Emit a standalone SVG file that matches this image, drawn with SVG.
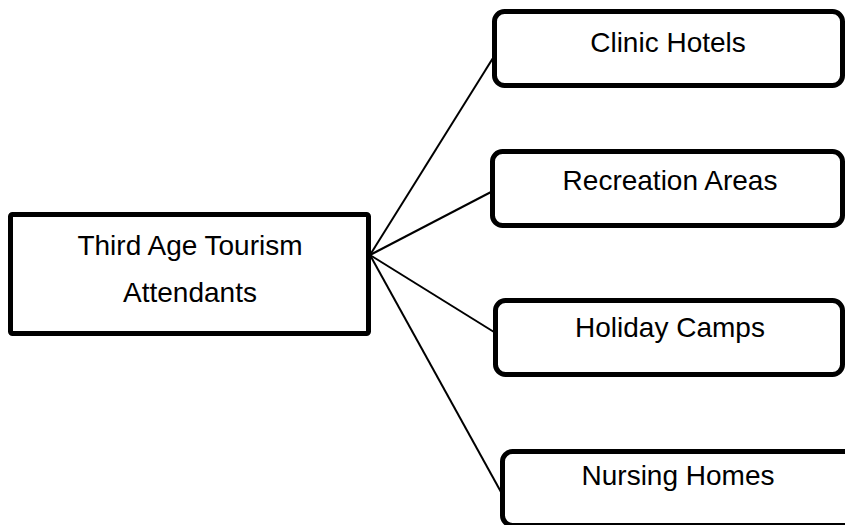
<svg xmlns="http://www.w3.org/2000/svg" width="845" height="525" viewBox="0 0 845 525">
<style>
.box{fill:#fff;stroke:#000;stroke-width:5}
.main{fill:#fff;stroke:#000;stroke-width:5}
.lbl{font-family:"Liberation Sans",Arial,sans-serif;font-size:28px;fill:#000;text-anchor:middle}
.conn line{stroke:#000;stroke-width:2}
</style>
<rect width="845" height="525" fill="#fff"/>
<g id="connectors" class="conn">
<line x1="370" y1="255" x2="493" y2="58"/>
<line x1="370" y1="255" x2="491" y2="192"/>
<line x1="370" y1="255" x2="494" y2="332"/>
<line x1="370" y1="255" x2="501" y2="492"/>
</g>
<g id="main">
<rect class="main" x="10.5" y="214.5" width="358" height="119" rx="2"/>
<text class="lbl" x="190" y="255">Third Age Tourism</text>
<text class="lbl" x="190" y="302">Attendants</text>
</g>
<g id="clinic">
<rect class="box" x="494.5" y="11.5" width="348" height="74" rx="10"/>
<text class="lbl" x="668" y="52">Clinic Hotels</text>
</g>
<g id="recreation">
<rect class="box" x="492.5" y="151.5" width="350" height="74" rx="10"/>
<text class="lbl" x="670" y="190">Recreation Areas</text>
</g>
<g id="holiday">
<rect class="box" x="495.5" y="300.5" width="347" height="74" rx="10"/>
<text class="lbl" x="670" y="337">Holiday Camps</text>
</g>
<g id="nursing">
<rect class="box" x="502.5" y="451.5" width="360" height="74" rx="10"/>
<text class="lbl" x="678" y="485">Nursing Homes</text>
</g>
</svg>
